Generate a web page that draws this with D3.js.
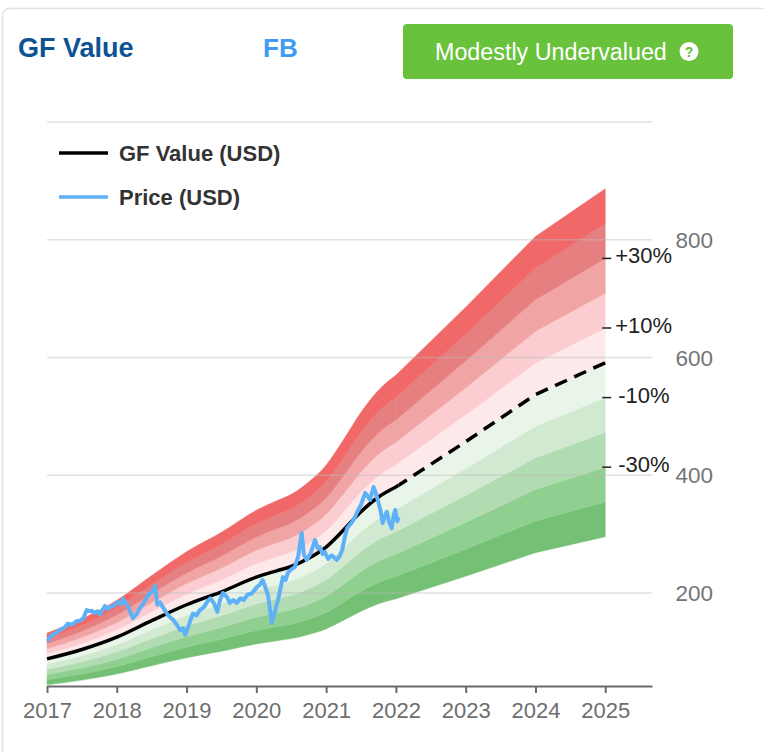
<!DOCTYPE html>
<html>
<head>
<meta charset="utf-8">
<script src="https://cdn.jsdelivr.net/npm/d3@7/dist/d3.min.js"></script>
<style>
  body { margin: 0; background: #fff; }
  svg text { font-family: 'Liberation Sans', Arial, sans-serif; }
</style>
</head>
<body>
<div id="chart"></div>
<script>
// GF value (estimated) and band steps
var gfDates  = [2017.0, 2017.5, 2018.0, 2018.5, 2019.0, 2019.5, 2020.0, 2020.3, 2020.5, 2020.75, 2021.0, 2021.25, 2021.5, 2021.75, 2022.0, 2023.0, 2024.0, 2025.0];
var gfValues = [88, 104, 125, 153, 180, 202, 227, 238, 245, 259, 278, 307, 338, 363, 380, 457, 537, 591];
var projStart = 2022.0;
var lastHistDate = 2022.04;

var priceDates  = [2017.01, 2017.05, 2017.09, 2017.14, 2017.19, 2017.25, 2017.30, 2017.36, 2017.42, 2017.47, 2017.52, 2017.57, 2017.61, 2017.64, 2017.68, 2017.72, 2017.76, 2017.80, 2017.83, 2017.87, 2017.90, 2017.95,
                   2018.02, 2018.06, 2018.09, 2018.13, 2018.16, 2018.20, 2018.23, 2018.29, 2018.33, 2018.39, 2018.45, 2018.50, 2018.55, 2018.58, 2018.62, 2018.66, 2018.73, 2018.77, 2018.81, 2018.86, 2018.91, 2018.95, 2018.98,
                   2019.03, 2019.09, 2019.14, 2019.19, 2019.25, 2019.30, 2019.34, 2019.39, 2019.44, 2019.48, 2019.52, 2019.58, 2019.62, 2019.67, 2019.72, 2019.77, 2019.82, 2019.87, 2019.93, 2020.01, 2020.05, 2020.09, 2020.12, 2020.17, 2020.22,
                   2020.27, 2020.31, 2020.35, 2020.38, 2020.42, 2020.45, 2020.50, 2020.55, 2020.60, 2020.65, 2020.68, 2020.72, 2020.78, 2020.84, 2020.88, 2020.91, 2020.95, 2020.98, 2021.03, 2021.08, 2021.12, 2021.15, 2021.19, 2021.23,
                   2021.27, 2021.30, 2021.34, 2021.37, 2021.41, 2021.44, 2021.50, 2021.56, 2021.60, 2021.63, 2021.68, 2021.71, 2021.74, 2021.78, 2021.81, 2021.84, 2021.87, 2021.90, 2021.94, 2021.97, 2021.99, 2022.02, 2022.04];
var priceValues = [118, 126, 130, 133, 138, 141, 148, 146, 152, 153, 157, 171, 169, 170, 166, 169, 164, 172, 178, 173, 176, 178,
                   185, 181, 190, 184, 177, 166, 157, 165, 174, 184, 196, 201, 212, 180, 184, 176, 163, 158, 154, 146, 137, 140, 129,
                   145, 165, 162, 171, 176, 186, 191, 183, 168, 188, 200, 193, 183, 188, 183, 191, 188, 197, 199, 210, 214, 222, 213, 195, 149,
                   170, 188, 210, 227, 222, 234, 240, 244, 262, 302, 266, 256, 268, 290, 276, 278, 266, 270, 258, 264, 260, 256, 262, 273,
                   296, 310, 316, 320, 328, 336, 350, 370, 364, 358, 380, 370, 358, 340, 319, 330, 338, 322, 310, 332, 341, 322, 329];

var bandSteps  = [-0.5, -0.4, -0.3, -0.2, -0.1, 0, 0.1, 0.2, 0.3, 0.4, 0.5];
var bandColors = ['#74c074', '#8fcf8f', '#b1dcb1', '#d1e9d1', '#eaf5ea', '#fde8ea', '#fccdd0', '#f0a4a4', '#e68080', '#f16868'];
var pctMarks   = [0.3, 0.1, -0.1, -0.3];
var pctLabels  = ['+30%', '+10%', '-10%', '-30%'];
var yearTicks  = [2017, 2018, 2019, 2020, 2021, 2022, 2023, 2024, 2025];
var valueTicks = [200, 400, 600, 800, 1000];
var valueLabels = ['200', '400', '600', '800', ''];
var legendNames = ['GF Value (USD)', 'Price (USD)'];
var legendColors = ['#000', '#5eb1f6'];

var W = 764, H = 752;
var svg = d3.select('#chart').append('svg').attr('width', W).attr('height', H);

// card outline
svg.append('rect').attr('x', 2.5).attr('y', 8.5).attr('width', 820).attr('height', 820)
   .attr('rx', 7).style('fill', '#fff').style('stroke', '#e2e2e2').style('stroke-width', 1.5);

// header
svg.append('text').attr('x', 18).attr('y', 57).text('GF Value')
   .style('font-size', '27px').style('font-weight', 'bold').style('fill', '#0c5394');
svg.append('text').attr('x', 263).attr('y', 57).text('FB')
   .style('font-size', '26px').style('font-weight', 'bold').style('fill', '#3f9cf2');
svg.append('rect').attr('x', 403).attr('y', 24).attr('width', 330).attr('height', 55).attr('rx', 4)
   .style('fill', '#68c23b');
svg.append('text').attr('x', 435).attr('y', 59.5).text('Modestly Undervalued')
   .style('font-size', '23.3px').style('fill', '#fff');
svg.append('circle').attr('cx', 689).attr('cy', 51.5).attr('r', 9.5).style('fill', '#fff');
svg.append('text').attr('x', 689).attr('y', 57).attr('text-anchor', 'middle').text('?')
   .style('font-size', '14px').style('font-weight', 'bold').style('fill', '#68c23b');

var x = d3.scaleLinear().domain([2017, 2025.67]).range([47, 652]);
var y = d3.scaleLinear().domain([42, 1000]).range([686, 122]);

var gf = gfDates.map(function(d, i){ return {t : d, v : gfValues[i]}; });
var gfHist = gf.filter(function(d){ return d.t <= projStart; });
var gfProj = gf.filter(function(d){ return d.t >= projStart; });
var price = priceDates.map(function(d, i){ return {t : d, v : priceValues[i]}; });

// bands: smooth history, straight yearly projection
var bands = d3.range(bandSteps.length - 1).map(function(i){ return {lo : bandSteps[i], hi : bandSteps[i + 1], color : bandColors[i]}; });
function bandArea(b, curve, pts) {
   return d3.area()
      .curve(curve)
      .x(function(d){ return x(d.t); })
      .y0(function(d){ return y(d.v * (1 + b.lo)); })
      .y1(function(d){ return y(d.v * (1 + b.hi)); })(pts);
}
svg.selectAll('.band')
   .data(bands)
   .enter()
   .append('path')
   .classed('band', true)
   .attr('d', function(b){ return bandArea(b, d3.curveMonotoneX, gfHist); })
   .style('fill', function(b){ return b.color; })
   .style('stroke', function(b){ return b.color; }).style('stroke-width', 0.5);
svg.selectAll('.bandp')
   .data(bands)
   .enter()
   .append('path')
   .classed('bandp', true)
   .attr('d', function(b){ return bandArea(b, d3.curveLinear, gfProj); })
   .style('fill', function(b){ return b.color; })
   .style('stroke', function(b){ return b.color; }).style('stroke-width', 0.5);

// grid lines
svg.selectAll('.grid')
   .data(valueTicks)
   .enter()
   .append('line')
   .classed('grid', true)
   .attr('x1', x.range()[0]).attr('x2', x.range()[1])
   .attr('y1', function(d){ return y(d); }).attr('y2', function(d){ return y(d); })
   .style('stroke', '#bbb').style('stroke-opacity', 0.45).style('stroke-width', 1.5);

svg.selectAll('.vlab')
   .data(valueTicks)
   .enter()
   .append('text')
   .classed('vlab', true)
   .attr('x', 713).attr('y', function(d){ return y(d); })
   .attr('dy', '0.36em').attr('text-anchor', 'end')
   .text(function(d, i){ return valueLabels[i]; })
   .style('font-size', '22.5px').style('fill', '#757575');

// x axis
var xAxis = svg.append('g')
   .attr('transform', 'translate(0,' + y.range()[0] + ')')
   .call(d3.axisBottom(x).tickValues(yearTicks).tickFormat(d3.format('d')).tickSize(7).tickSizeOuter(0).tickPadding(9));
xAxis.select('.domain').style('stroke', '#6a6a6a').style('stroke-width', 2);
xAxis.selectAll('.tick line').style('stroke', '#6a6a6a').style('stroke-width', 2);
xAxis.selectAll('.tick text').style('font-size', '22px').style('fill', '#6e6e6e')
     .style('font-family', "'Liberation Sans', Arial, sans-serif");

// GF value line: solid for history, dashed for projection
var lineOf = function(curve){ return d3.line().curve(curve).x(function(d){ return x(d.t); }).y(function(d){ return y(d.v); }); };
svg.append('clipPath').attr('id', 'hist').append('rect')
   .attr('x', 0).attr('y', 0).attr('width', x(lastHistDate)).attr('height', H);
svg.append('clipPath').attr('id', 'proj').append('rect')
   .attr('x', x(lastHistDate)).attr('y', 0).attr('width', W).attr('height', H);

svg.append('path').attr('d', lineOf(d3.curveMonotoneX)(gfHist) + lineOf(d3.curveLinear)(gfProj)).attr('clip-path', 'url(#hist)')
   .style('fill', 'none').style('stroke', '#000').style('stroke-width', 3.5);
svg.append('path').attr('d', lineOf(d3.curveLinear)(gfProj)).attr('clip-path', 'url(#proj)')
   .style('fill', 'none').style('stroke', '#000').style('stroke-width', 3.5).style('stroke-dasharray', '13, 8');

// price line
svg.append('path')
   .attr('d', lineOf(d3.curveLinear)(price))
   .style('fill', 'none').style('stroke', legendColors[1]).style('stroke-width', 4)
   .style('stroke-linejoin', 'round');

// percentage marks at the end of the projection
var gfEnd = gfValues[gfValues.length - 1];
var xEnd = x(gfDates[gfDates.length - 1]);
svg.selectAll('.pmark')
   .data(pctMarks)
   .enter()
   .append('line')
   .classed('pmark', true)
   .attr('x1', xEnd - 3).attr('x2', xEnd + 6)
   .attr('y1', function(d){ return y(gfEnd * (1 + d)); }).attr('y2', function(d){ return y(gfEnd * (1 + d)); })
   .style('stroke', '#222').style('stroke-width', 1.5);
svg.selectAll('.plab')
   .data(pctMarks)
   .enter()
   .append('text')
   .classed('plab', true)
   .attr('x', function(d){ return d > 0 ? xEnd + 10 : xEnd + 13; })
   .attr('y', function(d){ return y(gfEnd * (1 + d)) - 3; })
   .attr('dy', '0.36em')
   .text(function(d, i){ return pctLabels[i]; })
   .style('font-size', '22px').style('fill', '#222');

// legend
var leg = svg.selectAll('.leg')
   .data(legendNames)
   .enter()
   .append('g')
   .classed('leg', true)
   .attr('transform', function(d, i){ return 'translate(59,' + (153 + i * 44) + ')'; });
leg.append('line').attr('x1', 0).attr('x2', 49).attr('y1', 0).attr('y2', 0)
   .style('stroke', function(d, i){ return legendColors[i]; }).style('stroke-width', 3.5);
leg.append('text').attr('x', 60).attr('y', 0).attr('dy', '0.36em').text(function(d){ return d; })
   .style('font-size', '22px').style('font-weight', 'bold').style('fill', '#333');
</script>
</body>
</html>
